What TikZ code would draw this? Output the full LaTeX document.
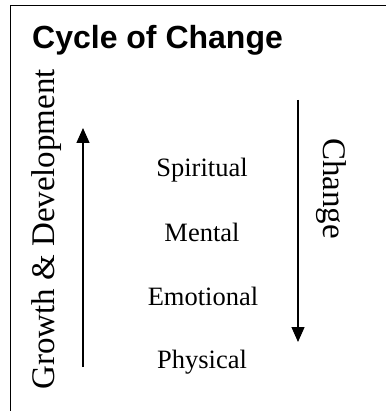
\documentclass[tikz,border=0pt]{standalone}
\usepackage{fontspec}
\setmainfont{Liberation Serif}
\newfontfamily\titlefont{Liberation Sans}
\usetikzlibrary{arrows.meta}
\begin{document}
\begin{tikzpicture}[x=1pt,y=-1pt,
  frame/.style={line width=1.8pt,black},
  flow/.style={line width=1.3pt,-{Triangle[length=15pt,width=13pt]}},
  level/.style={font=\fontsize{26.5}{30}\selectfont,inner sep=0pt,anchor=base},
  sidelabel/.style={font=\fontsize{33}{38}\selectfont,inner sep=0pt,anchor=base west}]
\useasboundingbox (0,0) rectangle (386,411);
\fill[white] (0,0) rectangle (386,411);
% frame
\coordinate (fbl) at (10.5,411);
\coordinate (ftl) at (10.5,5.5);
\coordinate (ftr) at (386,5.5);
\draw[frame] (fbl) -- (ftl) -- (ftr);
% title
\node[inner sep=0pt,anchor=base west,font=\titlefont\bfseries\fontsize{32}{36}\selectfont] (title) at (32,49) {Cycle of Change};
% side labels
\node[sidelabel,rotate=90] (growth) at (54.5,390) {Growth \& Development};
\node[sidelabel,rotate=-90] (change) at (323,138) {Change};
% levels
\node[level] (spiritual) at (202,177) {Spiritual};
\node[level] (mental) at (202,241) {Mental};
\node[level] (emotional) at (203,305) {Emotional};
\node[level] (physical) at (202,368) {Physical};
% arrows
\coordinate (ua) at (83,367);
\coordinate (ub) at (83,128);
\coordinate (da) at (298,100);
\coordinate (db) at (298,342);
\draw[flow] (ua) -- (ub);
\draw[flow] (da) -- (db);
\end{tikzpicture}
\end{document}
